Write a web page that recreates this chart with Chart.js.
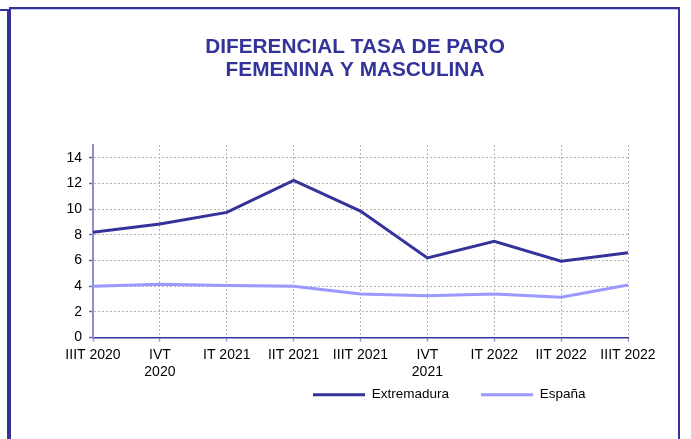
<!DOCTYPE html>
<html><head><meta charset="utf-8">
<script src="https://cdn.jsdelivr.net/npm/chart.js@4.4.1/dist/chart.umd.min.js"></script>
<style>
html,body{margin:0;padding:0;background:#fff;width:691px;height:439px;overflow:hidden;}
#wrap{position:relative;width:691px;height:439px;background:#fff;}
canvas{position:absolute;left:0;top:0;}
.b{position:absolute;background:#333399;}
</style></head><body>
<div id="wrap">
<canvas id="c" width="691" height="439"></canvas>
<div class="b" style="left:9px;top:7px;width:671px;height:2px;"></div>
<div style="position:absolute;left:11px;top:9px;width:667px;height:1px;background:#c4c4e6;"></div>
<div class="b" style="left:7px;top:9px;width:4px;height:430px;"></div>
<div class="b" style="left:0;top:9px;width:7px;height:2px;"></div>
<div class="b" style="left:678px;top:7px;width:2px;height:432px;"></div>
</div>
<script>
const categories = ['IIIT 2020', ['IVT', '2020'], 'IT 2021', 'IIT 2021', 'IIIT 2021', ['IVT', '2021'], 'IT 2022', 'IIT 2022', 'IIIT 2022'];
const extremadura = [8.2, 8.85, 9.75, 12.25, 9.85, 6.2, 7.5, 5.95, 6.6];
const espana = [4.0, 4.15, 4.05, 4.0, 3.4, 3.25, 3.4, 3.15, 4.1];
const seriesNames = ['Extremadura', 'España'];
const titleLines = ['DIFERENCIAL TASA DE PARO', 'FEMENINA Y MASCULINA'];
const yMin = 0, yMax = 15, yStep = 2;

const FONT = "'Liberation Sans', Arial, sans-serif";
const TITLE_CX = 355;
const LEGEND_X = 313;
const LEGEND_Y = 394.7;
const LEG_FS = 13.5;
const TICK_FS = 14;

const placePlugin = {
  id: 'place',
  afterLayout(chart) {
    const t = chart.titleBlock;
    if (t) { const w = t.right - t.left; t.left = TITLE_CX - w / 2; t.right = t.left + w; }
    const lg = chart.legend;
    if (lg && lg.lineWidths) {
      const p = lg.options.labels.padding;
      const w = lg.right - lg.left;
      const L = LEGEND_X - (p + w - lg.lineWidths[0]) / 2;
      lg.left = L; lg.right = L + w;
      lg.top = LEGEND_Y - p - LEG_FS / 2;
      lg.height = 2 * p + LEG_FS + 4;
      lg.bottom = lg.top + lg.height;
    }
  }
};

Chart.defaults.color = '#000';
Chart.defaults.font.family = FONT;

new Chart(document.getElementById('c'), {
  type: 'line',
  data: {
    labels: categories,
    datasets: [
      { label: seriesNames[0], data: extremadura, borderColor: '#333399', backgroundColor: '#333399', borderWidth: 3, pointRadius: 0, tension: 0, fill: false },
      { label: seriesNames[1], data: espana, borderColor: '#9999ff', backgroundColor: '#9999ff', borderWidth: 3, pointRadius: 0, tension: 0, fill: false }
    ]
  },
  options: {
    responsive: false,
    animation: false,
    devicePixelRatio: 1,
    layout: { padding: { top: 36, left: 50, right: 63, bottom: 33.8 } },
    plugins: {
      title: {
        display: true, text: titleLines, color: '#333399',
        font: { family: FONT, size: 20.8, weight: 'bold', lineHeight: 1.106 },
        padding: { top: 0, bottom: 63 }
      },
      legend: {
        display: true, position: 'bottom', maxHeight: 20,
        labels: {
          usePointStyle: true, pointStyle: 'line', pointStyleWidth: 52,
          padding: 32, color: '#000', font: { family: FONT, size: LEG_FS }
        }
      },
      tooltip: { enabled: false }
    },
    scales: {
      x: {
        ticks: { color: '#000', font: { family: FONT, size: TICK_FS, lineHeight: 1.2 }, padding: 5, maxRotation: 0, autoSkip: false },
        grid: {
          color: (ctx) => ctx.index === 0 ? 'rgba(0,0,0,0)' : '#b4b4b4',
          lineWidth: 1, tickLength: 4, tickColor: '#9999cc', tickWidth: 1.5
        },
        border: { display: true, color: '#333399', width: 1.5, dash: [2, 2] }
      },
      y: {
        min: yMin, max: yMax,
        afterFit: (s) => { s.width = 43; },
        ticks: { stepSize: yStep, includeBounds: false, color: '#000', font: { family: FONT, size: TICK_FS }, padding: 7 },
        grid: {
          color: (ctx) => (ctx.tick && ctx.tick.value === 0) ? 'rgba(0,0,0,0)' : '#b4b4b4',
          lineWidth: 1, tickLength: 4, tickColor: '#6666aa', tickWidth: 1.5
        },
        border: { display: true, color: '#8c8cd0', width: 2, dash: [2, 2] }
      }
    }
  },
  plugins: [placePlugin]
});
</script>
</body></html>
